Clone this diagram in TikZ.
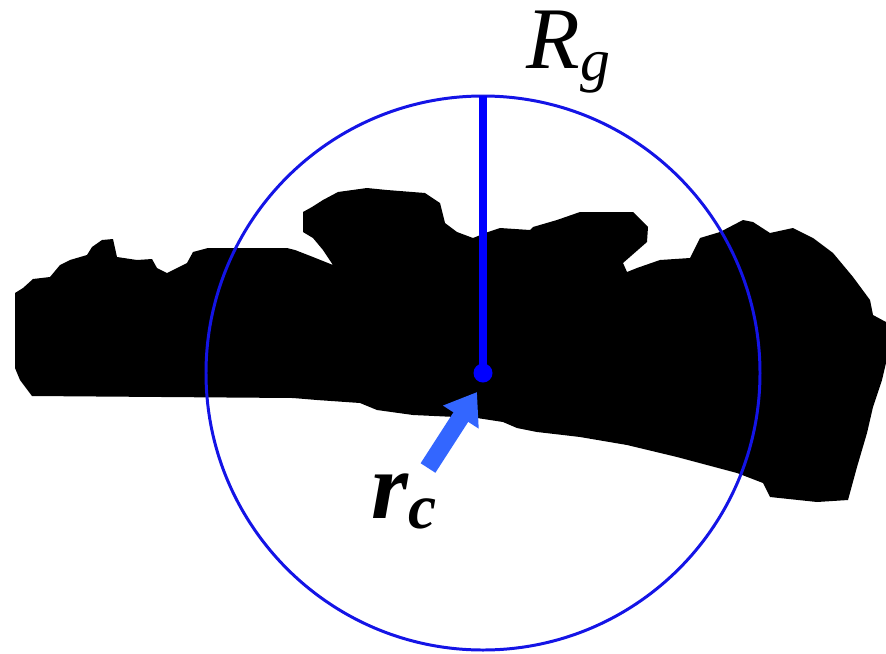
\documentclass[tikz,border=0pt]{standalone}
\usepackage{fontspec}
\setmainfont{Liberation Serif}
\usepackage{tikz}
\usetikzlibrary{arrows.meta, positioning}
\usepackage{xcolor}
\definecolor{ringblue}{RGB}{20,20,230}
\definecolor{arrowblue}{RGB}{51,102,255}

\begin{document}
\begin{tikzpicture}[
    x=0.02cm, y=-0.02cm,
    % shapes
    blob_shape/.style={fill=black, draw=none},
    ring_line/.style={draw=ringblue, line width=1.7pt},
    radius_line/.style={draw=blue, line width=5pt},
    center_dot/.style={circle, fill=blue, inner sep=0pt, minimum size=0.38cm},
    % labels
    rg_label/.style={font=\fontsize{50}{54}\selectfont\itshape, inner sep=0pt},
    rc_label/.style={font=\fontsize{54}{58}\selectfont\bfseries\itshape, inner sep=0pt}
]
    \useasboundingbox (0,0) rectangle (886,653);

    % --- 1. BLACK REGION ---
    \fill[blob_shape] (15,293) -- (23,288) -- (33,279) -- (50,277) -- (60,265) -- (70,260)
        -- (87,255) -- (92,247) -- (102,240) -- (113,239) -- (117,257) -- (137,260)
        -- (152,259) -- (157,268) -- (167,273) -- (187,263) -- (193,252) -- (208,248)
        -- (287,248) -- (295,250) -- (313,257) -- (333,265) -- (323,250) -- (313,238)
        -- (303,232) -- (303,212) -- (312,207) -- (323,200) -- (338,192) -- (367,188)
        -- (387,190) -- (425,193) -- (440,203) -- (445,223) -- (457,232) -- (473,238)
        -- (488,232) -- (500,228) -- (530,230) -- (533,227) -- (557,220) -- (580,212)
        -- (633,212) -- (648,227) -- (647,242) -- (623,263) -- (627,272) -- (637,268)
        -- (660,260) -- (690,258) -- (700,238) -- (720,232) -- (743,220) -- (753,222)
        -- (770,233) -- (793,228) -- (813,238) -- (833,253) -- (853,277) -- (870,300)
        -- (873,315) -- (886,322) -- (886,363) -- (882,380) -- (873,407) -- (867,433)
        -- (857,467) -- (848,500) -- (817,502) -- (770,497) -- (763,483) -- (737,473)
        -- (677,457) -- (627,445) -- (580,437) -- (563,435) -- (537,432) -- (517,428)
        -- (503,422) -- (477,418) -- (413,415) -- (377,410) -- (360,403) -- (317,400)
        -- (293,398) -- (32,396) -- (20,380) -- (15,368) -- cycle;

    % --- 2. GYRATION CIRCLE AND RADIUS ---
    \node[center_dot] (centre) at (483,373) {};
    \coordinate (top) at (483,96);
    \draw[ring_line] (centre.center) circle[radius=277];
    \draw[radius_line] (centre.center) -- (top);

    % --- 3. CENTRE ARROW ---
    \coordinate (tail) at (428,468);
    \coordinate (tip) at (477,392);
    \draw[arrowblue, line width=10pt, -{Triangle[length=17pt, width=23pt]}] (tail) -- (tip);

    % --- 4. LABELS ---
    \node[rg_label, anchor=base west] (rg) at (526,68) {R\raisebox{-7pt}{\fontsize{34}{34}\selectfont g}};
    \node[rc_label, anchor=base west] (rc) at (371,518) {r\raisebox{-6pt}{\fontsize{36}{36}\selectfont c}};

\end{tikzpicture}
\end{document}
